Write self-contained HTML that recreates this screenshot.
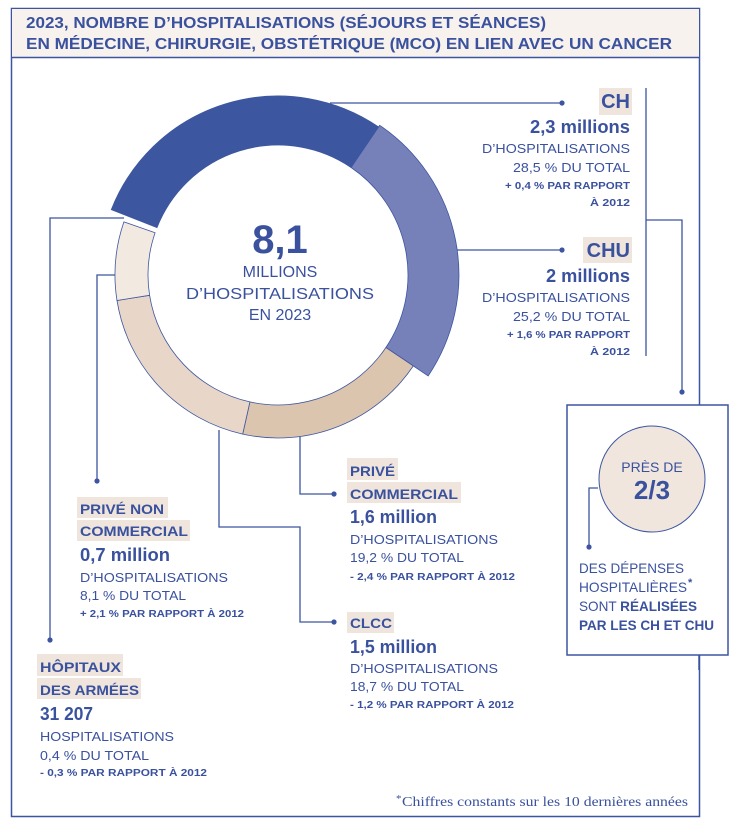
<!DOCTYPE html>
<html><head><meta charset="utf-8"><style>
html,body{margin:0;padding:0;background:#fff;}
svg{display:block;font-family:"Liberation Sans",sans-serif;}
.b{font-weight:bold;}
</style></head><body>
<svg width="744" height="830" viewBox="0 0 744 830" xmlns="http://www.w3.org/2000/svg">
<g fill="none" stroke="#3d55a0" stroke-width="1.5">
<rect x="11.5" y="8.5" width="688" height="808" fill="#fff"/>
</g>
<rect x="12" y="9" width="687" height="48" fill="#f7f2ee"/>
<line x1="11.5" y1="57.5" x2="699.5" y2="57.5" stroke="#3d55a0" stroke-width="1.5"/>
<g fill="#3a519e" class="b" font-size="15.5">
<text x="26" y="28" textLength="520" lengthAdjust="spacingAndGlyphs">2023, NOMBRE D’HOSPITALISATIONS (SÉJOURS ET SÉANCES)</text>
<text x="26" y="49" textLength="646" lengthAdjust="spacingAndGlyphs">EN MÉDECINE, CHIRURGIE, OBSTÉTRIQUE (MCO) EN LIEN AVEC UN CANCER</text>
</g>

<g stroke="#3d55a0" stroke-width="1.3" fill="none">
<polyline points="330,103 562,103"/>
<polyline points="430,250 562,250"/>
<polyline points="646,88 646,356"/>
<polyline points="646,220 682,220 682,392"/>
<polyline points="300,430 300,494 334,494"/>
<polyline points="219,430 219,527 300,527 300,622 334,622"/>
<polyline points="116,275 97,275 97,481"/>
<polyline points="124,218 50,218 50,640"/>
</g>
<g fill="#3d55a0">
<circle cx="562" cy="103" r="2.6"/><circle cx="562" cy="250" r="2.6"/>
<circle cx="682" cy="392" r="2.6"/><circle cx="334" cy="494" r="2.6"/>
<circle cx="334" cy="622" r="2.6"/><circle cx="97" cy="481" r="2.6"/>
<circle cx="50" cy="640" r="2.6"/>
</g>

<g stroke="#3d55a0" stroke-width="0.8">
<path d="M111.3,209.7 A179,179 0 0 1 378.6,126.9 L351.1,167.5 A130,130 0 0 0 157,227.6 Z" fill="#3d56a0"/>
<path d="M379.7,125.3 A181,181 0 0 1 428.2,375.9 L385.9,347.5 A130,130 0 0 0 351.1,167.5 Z" fill="#7681ba"/>
<path d="M413.3,365.9 A163,163 0 0 1 242.7,434.1 L249.9,401.9 A130,130 0 0 0 385.9,347.5 Z" fill="#dcc5ae"/>
<path d="M242.7,434.1 A163,163 0 0 1 117,300.5 L149.6,295.3 A130,130 0 0 0 249.9,401.9 Z" fill="#e8d7c8"/>
<path d="M117,300.5 A163,163 0 0 1 123.9,221.9 L155.1,232.7 A130,130 0 0 0 149.6,295.3 Z" fill="#f2e9e1"/>
</g>
<g fill="#3a519e" text-anchor="middle">
<text x="280" y="253" class="b" font-size="40">8,1</text>
<text x="280" y="277" font-size="16">MILLIONS</text>
<text x="280" y="299" font-size="16" textLength="188" lengthAdjust="spacingAndGlyphs">D’HOSPITALISATIONS</text>
<text x="280" y="320" font-size="16">EN 2023</text>
</g>

<g fill="#efe5dc">
<rect x="599" y="88" width="33" height="27"/>
<rect x="583" y="237" width="49" height="26"/>
<rect x="347" y="458" width="51" height="22"/>
<rect x="347" y="482" width="114" height="21"/>
<rect x="347" y="612" width="47" height="21"/>
<rect x="77" y="497" width="91" height="21"/>
<rect x="77" y="520" width="113" height="21"/>
<rect x="37" y="654" width="86" height="22"/>
<rect x="37" y="678" width="104" height="21"/>
</g>

<g fill="#3a519e" text-anchor="end">
<text x="630" y="108" class="b" font-size="20">CH</text>
<text x="630" y="133" class="b" font-size="18" textLength="100" lengthAdjust="spacingAndGlyphs">2,3 millions</text>
<text x="630" y="153" font-size="13" textLength="148" lengthAdjust="spacingAndGlyphs">D’HOSPITALISATIONS</text>
<text x="630" y="172" font-size="13" textLength="117" lengthAdjust="spacingAndGlyphs">28,5 % DU TOTAL</text>
<text x="630" y="189" class="b" font-size="10" textLength="125" lengthAdjust="spacingAndGlyphs">+ 0,4 % PAR RAPPORT</text>
<text x="630" y="206" class="b" font-size="10" textLength="40" lengthAdjust="spacingAndGlyphs">À 2012</text>

<text x="630" y="257" class="b" font-size="20">CHU</text>
<text x="630" y="282" class="b" font-size="18" textLength="84" lengthAdjust="spacingAndGlyphs">2 millions</text>
<text x="630" y="302" font-size="13" textLength="148" lengthAdjust="spacingAndGlyphs">D’HOSPITALISATIONS</text>
<text x="630" y="321" font-size="13" textLength="117" lengthAdjust="spacingAndGlyphs">25,2 % DU TOTAL</text>
<text x="630" y="338" class="b" font-size="10" textLength="123" lengthAdjust="spacingAndGlyphs">+ 1,6 % PAR RAPPORT</text>
<text x="630" y="355" class="b" font-size="10" textLength="40" lengthAdjust="spacingAndGlyphs">À 2012</text>
</g>

<rect x="567" y="405" width="161" height="250" fill="#fff" stroke="#3d55a0" stroke-width="1.5"/>
<polyline points="699,655 699,670" stroke="#3d55a0" stroke-width="1.5"/>
<circle cx="652" cy="479" r="53" fill="#f0e6dd" stroke="#3d55a0" stroke-width="1"/>
<polyline points="598,488 589,488 589,547" stroke="#3d55a0" stroke-width="1.3" fill="none"/>
<circle cx="589" cy="547" r="2.6" fill="#3d55a0"/>
<g fill="#3a519e">
<text x="652" y="472" text-anchor="middle" font-size="14">PRÈS DE</text>
<text x="652" y="499" text-anchor="middle" class="b" font-size="26">2/3</text>
<text x="579" y="573" font-size="14" textLength="105" lengthAdjust="spacingAndGlyphs">DES DÉPENSES</text>
<text x="579" y="592" font-size="14" textLength="108" lengthAdjust="spacingAndGlyphs">HOSPITALIÈRES</text><text x="688" y="586" font-size="11" class="b">*</text>
<text x="579" y="611" font-size="14" textLength="118" lengthAdjust="spacingAndGlyphs">SONT <tspan class="b">RÉALISÉES</tspan></text>
<text x="579" y="630" font-size="14" class="b" textLength="135" lengthAdjust="spacingAndGlyphs">PAR LES CH ET CHU</text>
</g>

<g fill="#3a519e">
<text x="350" y="476" class="b" font-size="14" textLength="45" lengthAdjust="spacingAndGlyphs">PRIVÉ</text>
<text x="350" y="499" class="b" font-size="14" textLength="108" lengthAdjust="spacingAndGlyphs">COMMERCIAL</text>
<text x="350" y="523" class="b" font-size="18" textLength="87" lengthAdjust="spacingAndGlyphs">1,6 million</text>
<text x="350" y="544" font-size="13" textLength="148" lengthAdjust="spacingAndGlyphs">D’HOSPITALISATIONS</text>
<text x="350" y="562" font-size="13" textLength="114" lengthAdjust="spacingAndGlyphs">19,2 % DU TOTAL</text>
<text x="350" y="580" class="b" font-size="10" textLength="165" lengthAdjust="spacingAndGlyphs">- 2,4 % PAR RAPPORT À 2012</text>

<text x="350" y="628" class="b" font-size="14" textLength="42" lengthAdjust="spacingAndGlyphs">CLCC</text>
<text x="350" y="653" class="b" font-size="18" textLength="87" lengthAdjust="spacingAndGlyphs">1,5 million</text>
<text x="350" y="673" font-size="13" textLength="148" lengthAdjust="spacingAndGlyphs">D’HOSPITALISATIONS</text>
<text x="350" y="691" font-size="13" textLength="114" lengthAdjust="spacingAndGlyphs">18,7 % DU TOTAL</text>
<text x="350" y="708" class="b" font-size="10" textLength="164" lengthAdjust="spacingAndGlyphs">- 1,2 % PAR RAPPORT À 2012</text>

<text x="80" y="514" class="b" font-size="14" textLength="84" lengthAdjust="spacingAndGlyphs">PRIVÉ NON</text>
<text x="80" y="536" class="b" font-size="14" textLength="108" lengthAdjust="spacingAndGlyphs">COMMERCIAL</text>
<text x="80" y="561" class="b" font-size="18" textLength="90" lengthAdjust="spacingAndGlyphs">0,7 million</text>
<text x="80" y="582" font-size="13" textLength="148" lengthAdjust="spacingAndGlyphs">D’HOSPITALISATIONS</text>
<text x="80" y="600" font-size="13" textLength="106" lengthAdjust="spacingAndGlyphs">8,1 % DU TOTAL</text>
<text x="80" y="617" class="b" font-size="10" textLength="164" lengthAdjust="spacingAndGlyphs">+ 2,1 % PAR RAPPORT À 2012</text>

<text x="40" y="672" class="b" font-size="14" textLength="81" lengthAdjust="spacingAndGlyphs">HÔPITAUX</text>
<text x="40" y="695" class="b" font-size="14" textLength="99" lengthAdjust="spacingAndGlyphs">DES ARMÉES</text>
<text x="40" y="720" class="b" font-size="18" textLength="53" lengthAdjust="spacingAndGlyphs">31 207</text>
<text x="40" y="741" font-size="13" textLength="134" lengthAdjust="spacingAndGlyphs">HOSPITALISATIONS</text>
<text x="40" y="760" font-size="13" textLength="109" lengthAdjust="spacingAndGlyphs">0,4 % DU TOTAL</text>
<text x="40" y="776" class="b" font-size="10" textLength="167" lengthAdjust="spacingAndGlyphs">- 0,3 % PAR RAPPORT À 2012</text>
</g>

<g fill="#3a519e" font-family="Liberation Serif, serif">
<text x="396" y="802" font-size="11">*</text>
<text x="688" y="806" text-anchor="end" font-size="14" textLength="286" lengthAdjust="spacingAndGlyphs">Chiffres constants sur les 10 dernières années</text>
</g>
</svg>
</body></html>
